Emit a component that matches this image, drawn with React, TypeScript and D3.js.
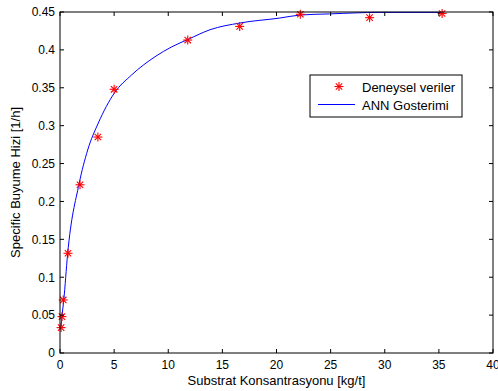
import React from 'react'
import * as d3 from 'd3'

// experimental points
const expS = [0.1, 0.18, 0.3, 0.74, 1.85, 3.5, 5.0, 11.8, 16.6, 22.2, 28.6, 35.3]
const expMu = [0.0335, 0.048, 0.07, 0.1316, 0.222, 0.285, 0.348, 0.413, 0.431, 0.447, 0.4425, 0.448]

// ANN output curve
const annS = [0.1, 0.18, 0.35, 0.7, 1.76, 2.56, 3.54, 5.02, 6.62, 8.78, 10.32, 11.85, 13.86, 16.63, 20.3, 22.2, 24.9, 29.6, 35.3]
const annMu = [0.035, 0.048, 0.07, 0.13, 0.223, 0.268, 0.3035, 0.343, 0.367, 0.391, 0.404, 0.414, 0.4266, 0.4355, 0.442, 0.446, 0.4475, 0.4495, 0.4495]

const xTicks = [0, 5, 10, 15, 20, 25, 30, 35, 40]
const yTicks = [0, 0.05, 0.1, 0.15, 0.2, 0.25, 0.3, 0.35, 0.4, 0.45]

const W = 498
const H = 391
const left = 60
const top = 12
const right = 493
const bottom = 353
const font = 'Liberation Sans, Arial, sans-serif'

const Star = ({ x, y }: { x: number; y: number }) => {
  const r = 4.5
  const d = 3.2
  return (
    <g stroke="#ff0000" strokeWidth={1.1}>
      <line x1={x - r} y1={y} x2={x + r} y2={y} />
      <line x1={x} y1={y - r} x2={x} y2={y + r} />
      <line x1={x - d} y1={y - d} x2={x + d} y2={y + d} />
      <line x1={x - d} y1={y + d} x2={x + d} y2={y - d} />
    </g>
  )
}

export default function App() {
  const x = d3.scaleLinear().domain([0, 40]).range([left, right])
  const y = d3.scaleLinear().domain([0, 0.45]).range([bottom, top])

  const line = d3.line<number>()
    .x((_, i) => x(annS[i]))
    .y(d => y(d))
    .curve(d3.curveMonotoneX)

  const tl = 4

  return (
    <svg width={W} height={H} style={{ position: 'absolute', left: 0, top: 0, background: '#fff' }} fontFamily={font}>
      <rect x={0} y={0} width={W} height={H} fill="#fff" />

      <path d={line(annMu) ?? ''} fill="none" stroke="#0000ff" strokeWidth={1} />

      {expS.map((s, i) => (
        <Star key={i} x={x(s)} y={y(expMu[i])} />
      ))}

      <rect x={left} y={top} width={right - left} height={bottom - top} fill="none" stroke="#000" strokeWidth={1} />

      {xTicks.map(t => (
        <g key={'x' + t}>
          <line x1={x(t)} x2={x(t)} y1={bottom} y2={bottom - tl} stroke="#000" />
          <line x1={x(t)} x2={x(t)} y1={top} y2={top + tl} stroke="#000" />
          <text x={x(t)} y={369} fontSize={12} textAnchor="middle" fill="#000">{t}</text>
        </g>
      ))}
      {yTicks.map(t => (
        <g key={'y' + t}>
          <line x1={left} x2={left + tl} y1={y(t)} y2={y(t)} stroke="#000" />
          <line x1={right} x2={right - tl} y1={y(t)} y2={y(t)} stroke="#000" />
          <text x={55} y={y(t) + 4.3} fontSize={12} textAnchor="end" fill="#000">{t}</text>
        </g>
      ))}

      <text x={(left + right) / 2} y={385} fontSize={13} textAnchor="middle" fill="#000">Substrat Konsantrasyonu [kg/t]</text>
      <text transform={`translate(20,${(top + bottom) / 2}) rotate(-90)`} fontSize={13} textAnchor="middle" fill="#000">Specific Buyume Hizi [1/h]</text>

      <g>
        <rect x={310} y={75} width={152} height={42} fill="#fff" stroke="#000" />
        <Star x={339} y={86.5} />
        <text x={362} y={91.5} fontSize={13} fill="#000">Deneysel veriler</text>
        <line x1={318} x2={355} y1={104.5} y2={104.5} stroke="#0000ff" />
        <text x={362} y={110} fontSize={13} fill="#000">ANN Gosterimi</text>
      </g>
    </svg>
  )
}
